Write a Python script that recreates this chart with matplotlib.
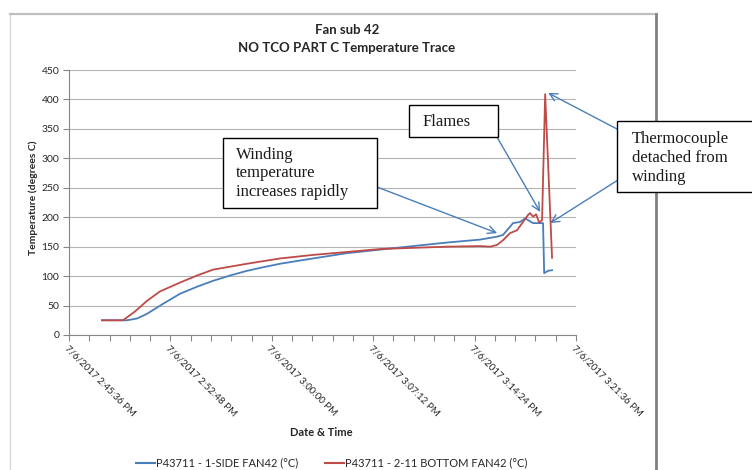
import matplotlib
matplotlib.use("Agg")
import matplotlib.pyplot as plt
from matplotlib.lines import Line2D
from matplotlib.patches import Rectangle

plt.rcParams['font.family'] = ['Lato', 'DejaVu Sans']

# ---------------- data (minutes after 7/6/2017 2:45:36 PM) ----------------
side_t = [2.34, 4.12, 4.83, 5.54, 6.68, 7.88, 9.09, 10.23, 11.43, 12.64,
          13.78, 14.99, 17.33, 19.74, 22.09, 24.43, 26.85, 29.19, 30.40, 30.82,
          31.32, 31.53, 32.03, 32.39, 32.60, 32.95, 33.31, 33.66, 33.74, 34.02,
          34.30]
side_temp = [25, 25, 28, 36, 53, 70, 82, 92, 101, 109,
             115, 121, 130, 139, 145, 151, 157, 162, 167, 170,
             184, 190, 192, 198, 195, 190, 190, 190, 105, 109,
             110]

bottom_t = [2.34, 3.84, 4.69, 5.54, 6.46, 7.88, 9.09, 10.23, 11.43, 12.64,
            14.99, 17.33, 19.74, 22.09, 24.43, 26.85, 29.19, 29.90, 30.40, 30.82,
            31.32, 31.82, 32.24, 32.60, 32.74, 32.95, 33.17, 33.38, 33.59, 33.81,
            34.30]
bottom_temp = [25, 25, 40, 58, 74, 89, 101, 111, 116, 121,
               130, 136, 141, 146, 148, 150, 151, 150, 153, 161,
               173, 178, 192, 204, 207, 201, 205, 191, 195, 409,
               131]

series_names = ["P43711 - 1-SIDE FAN42 (\u00b0C)", "P43711 - 2-11 BOTTOM FAN42 (\u00b0C)"]
major_ticks = [0, 7.2, 14.4, 21.6, 28.8, 36.0]
tick_labels = ["7/6/2017 2:45:36 PM", "7/6/2017 2:52:48 PM", "7/6/2017 3:00:00 PM",
               "7/6/2017 3:07:12 PM", "7/6/2017 3:14:24 PM", "7/6/2017 3:21:36 PM"]
minor_step = 1.44
y_ticks = list(range(0, 451, 50))

BLUE = '#4a7ebb'
RED = '#be4b48'
TXT = '#262626'
W, H = 752, 470


def fx(px):
    return px / W


def fy(py):
    return 1 - py / H


fig = plt.figure(figsize=(W / 100, H / 100), dpi=100)
fig.patch.set_facecolor('white')

# chart frame
fig.add_artist(Line2D([fx(10), fx(10)], [fy(14), fy(470)], color='#d9d9d9', lw=1.0))
fig.add_artist(Line2D([fx(10), fx(656)], [fy(14), fy(14)], color='#bfbfbf', lw=1.6))
fig.add_artist(Line2D([fx(656), fx(656)], [fy(14), fy(470)], color='#808080', lw=2.0))

ax = fig.add_axes([fx(69), fy(335), (576 - 69) / W, (335 - 70) / H])
ax.plot(side_t, side_temp, color=BLUE, lw=1.3, zorder=3)
ax.plot(bottom_t, bottom_temp, color=RED, lw=1.3, zorder=3)

ax.set_xlim(0, 36)
ax.set_ylim(0, 450)
ax.set_yticks(y_ticks)
ax.set_xticks(major_ticks)
ax.set_xticks([i * minor_step for i in range(26)], minor=True)
ax.set_xticklabels(tick_labels, rotation=-45, ha='left', va='top',
                   rotation_mode='anchor', fontsize=7, color=TXT)
ax.tick_params(axis='y', labelsize=7.5, labelcolor=TXT, color='#868686',
               direction='out', length=4, width=0.8, pad=3)
ax.tick_params(axis='x', which='both', color='#868686', direction='out',
               length=4, width=0.8, pad=2)
ax.grid(axis='y', color='#b3b3b3', lw=0.8)
ax.set_axisbelow(True)
for s in ['top', 'right']:
    ax.spines[s].set_visible(False)
for s in ['left', 'bottom']:
    ax.spines[s].set_color('#868686')
    ax.spines[s].set_linewidth(0.8)

# titles
fig.text(fx(347), fy(30), "Fan sub 42", ha='center', va='center',
         fontsize=9.5, fontweight='bold', color=TXT)
fig.text(fx(347), fy(48), "NO TCO PART C Temperature Trace", ha='center',
         va='center', fontsize=9.5, fontweight='bold', color=TXT)
fig.text(fx(33), fy(198), "Temperature (degrees C)", rotation=90, ha='center',
         va='center', fontsize=7.5, fontweight='bold', color=TXT)
fig.text(fx(321), fy(433), "Date & Time", ha='center', va='center',
         fontsize=8, fontweight='bold', color=TXT)

# legend
handles = [Line2D([], [], color=BLUE, lw=1.5), Line2D([], [], color=RED, lw=1.5)]
fig.legend(handles, series_names, loc='center', bbox_to_anchor=(fx(332), fy(463)),
           ncol=2, frameon=False, fontsize=8, handlelength=1.7,
           handletextpad=0.1, columnspacing=2.4, labelcolor=TXT)

# annotation boxes
serif = ['Liberation Serif', 'DejaVu Serif']


def box(x0, y0, x1, y1):
    fig.add_artist(Rectangle((fx(x0), fy(y1)), fx(x1) - fx(x0), fy(y0) - fy(y1),
                             transform=fig.transFigure, facecolor='white',
                             edgecolor='black', lw=1.0, zorder=5))


box(223, 138, 377, 208)
for txt, yy in [("Winding", 155), ("temperature", 173), ("increases rapidly", 192)]:
    fig.text(fx(236), fy(yy), txt, family=serif, fontsize=12, ha='left',
             va='center', color='#1a1a1a', zorder=6)

box(409, 105, 498, 137)
fig.text(fx(423), fy(122), "Flames", family=serif, fontsize=12, ha='left',
         va='center', color='#1a1a1a', zorder=6)

box(617, 121, 760, 192)
for txt, yy in [("Thermocouple", 139), ("detached from", 158), ("winding", 177)]:
    fig.text(fx(632), fy(yy), txt, family=serif, fontsize=12, ha='left',
             va='center', color='#1a1a1a', zorder=6)

arrow_props = dict(arrowstyle='->', color=BLUE, lw=1.0, mutation_scale=14,
                   shrinkA=0, shrinkB=0)
arrows = [((30.4, 173), (377, 187)),
          ((33.45, 209), (497, 137)),
          ((34.02, 411), (617, 129)),
          ((34.16, 190), (618, 180))]
for head, tail in arrows:
    ax.annotate("", xy=head, xycoords='data',
                xytext=(fx(tail[0]), fy(tail[1])), textcoords='figure fraction',
                arrowprops=arrow_props, annotation_clip=False, zorder=4)

fig.savefig("out.png", dpi=100)
